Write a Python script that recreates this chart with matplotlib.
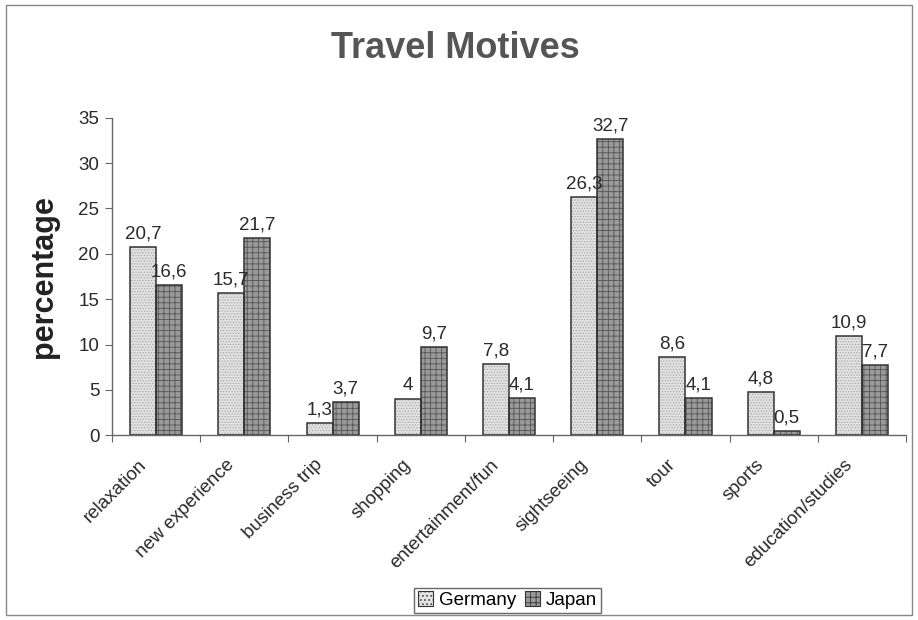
import matplotlib.pyplot as plt
from matplotlib.patches import Rectangle
import numpy as np

plt.rcParams['font.family'] = ['Liberation Sans', 'DejaVu Sans']

categories = ['relaxation', 'new experience', 'business trip', 'shopping',
              'entertainment/fun', 'sightseeing', 'tour', 'sports',
              'education/studies']
germany = [20.7, 15.7, 1.3, 4, 7.8, 26.3, 8.6, 4.8, 10.9]
japan = [16.6, 21.7, 3.7, 9.7, 4.1, 32.7, 4.1, 0.5, 7.7]
y_ticks = [0, 5, 10, 15, 20, 25, 30, 35]


def fmt(v):
    # decimal comma, no trailing ",0"
    s = ('%g' % v)
    return s.replace('.', ',')


fig = plt.figure(figsize=(9.18, 6.2), dpi=100)
ax = fig.add_axes([0.122, 0.298, 0.865, 0.512])

x = np.arange(len(categories))
w = 0.295
fs = 13.5

plt.rcParams['hatch.linewidth'] = 0.6
# fill + hatch first, outline on top
ax.bar(x + 0.5 - w / 2, germany, w, color='#e2e2e2', hatch='......',
       edgecolor='#a8a8a8', linewidth=0)
ax.bar(x + 0.5 + w / 2, japan, w, color='#9a9a9a', hatch='+++',
       edgecolor='#555555', linewidth=0)
ax.bar(x + 0.5 - w / 2, germany, w, fill=False, edgecolor='#333333', linewidth=1.1)
ax.bar(x + 0.5 + w / 2, japan, w, fill=False, edgecolor='#333333', linewidth=1.1)

for i in range(len(categories)):
    ax.text(x[i] + 0.5 - w / 2, germany[i] + 0.5, fmt(germany[i]),
            ha='center', va='bottom', fontsize=fs, color='#2a2a2a')
    ax.text(x[i] + 0.5 + w / 2, japan[i] + 0.5, fmt(japan[i]),
            ha='center', va='bottom', fontsize=fs, color='#2a2a2a')

ax.set_xlim(0, len(categories))
ax.set_ylim(0, 35)
ax.set_yticks(y_ticks)
ax.set_yticklabels([str(t) for t in y_ticks], fontsize=fs, color='#2a2a2a')

# ticks between categories
ax.set_xticks(np.arange(len(categories) + 1))
ax.set_xticklabels([])
ax.tick_params(axis='x', length=5, color='#666666', direction='out')
ax.tick_params(axis='y', length=5, color='#666666', direction='out', pad=4)

# slanted category names, right end just left of each group center
for i, cat in enumerate(categories):
    ax.annotate(cat, xy=(x[i] + 0.5, 0), xycoords=('data', 'axes fraction'),
                xytext=(-9, -19.5), textcoords='offset points', rotation=45,
                ha='right', va='center', rotation_mode='anchor',
                fontsize=fs, color='#2a2a2a')

for side in ['top', 'right']:
    ax.spines[side].set_visible(False)
for side in ['left', 'bottom']:
    ax.spines[side].set_color('#666666')
    ax.spines[side].set_linewidth(1.0)

ax.set_ylabel('percentage', fontsize=22, fontweight='bold', color='#222222',
              labelpad=14)

fig.text(0.496, 0.922, 'Travel Motives', ha='center', va='center',
         fontsize=26, fontweight='bold', color='#555555')

handles = [Rectangle((0, 0), 1, 1, facecolor='#e2e2e2', hatch='....',
                     edgecolor='#333333', linewidth=0.8),
           Rectangle((0, 0), 1, 1, facecolor='#9a9a9a', hatch='+++',
                     edgecolor='#333333', linewidth=0.8)]
fig.legend(handles, ['Germany', 'Japan'], loc='center', ncol=2,
           bbox_to_anchor=(0.553, 0.032), fontsize=fs, frameon=True,
           fancybox=False, edgecolor='#444444', handlelength=0.8,
           handleheight=0.8, handletextpad=0.3, columnspacing=0.5,
           borderpad=0.2)

# outer chart frame
fig.patches.append(Rectangle((0.006, 0.008), 0.988, 0.984,
                             transform=fig.transFigure, fill=False,
                             edgecolor='#888888', linewidth=1.0))

plt.savefig('out.png', dpi=100)
